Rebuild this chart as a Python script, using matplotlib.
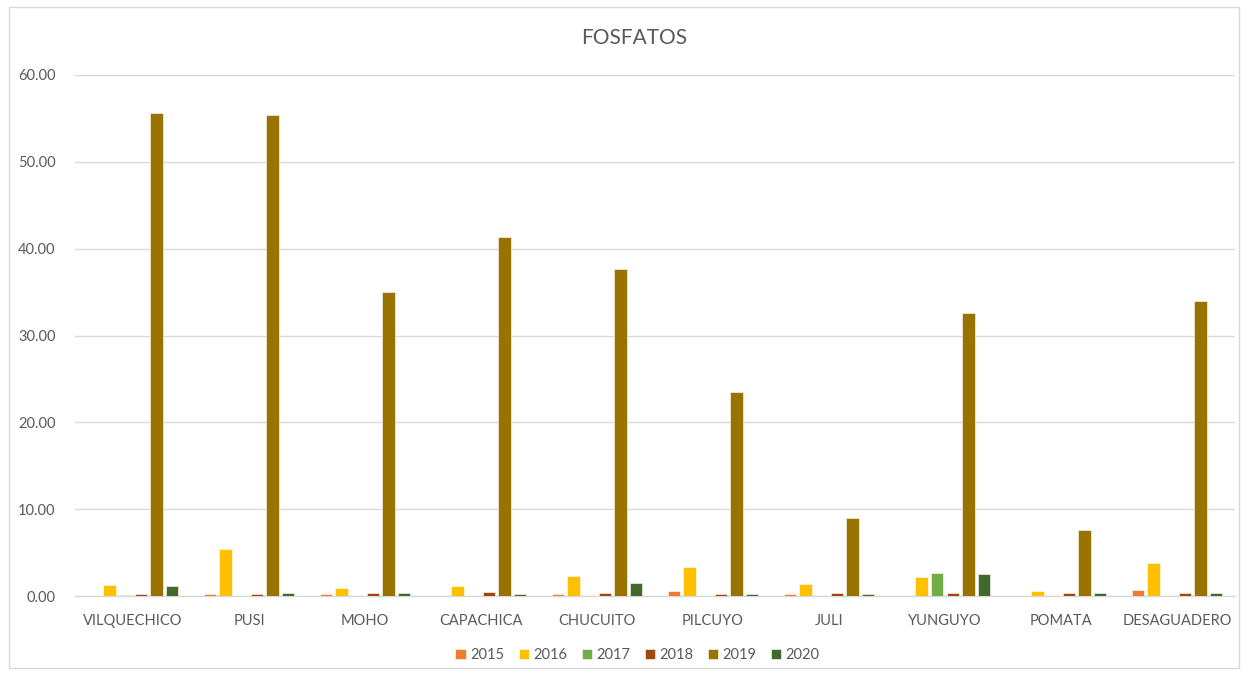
import matplotlib
matplotlib.use('Agg')
import matplotlib.pyplot as plt
import numpy as np
from matplotlib.patches import Rectangle

estaciones = ['VILQUECHICO', 'PUSI', 'MOHO', 'CAPACHICA', 'CHUCUITO',
              'PILCUYO', 'JULI', 'YUNGUYO', 'POMATA', 'DESAGUADERO']
anios = ['2015', '2016', '2017', '2018', '2019', '2020']

v2015 = [0.00, 0.20, 0.20, 0.00, 0.20, 0.58, 0.20, 0.00, 0.00, 0.70]
v2016 = [1.31, 5.42, 0.97, 1.20, 2.30, 3.35, 1.43, 2.20, 0.55, 3.80]
v2017 = [0.15, 0.00, 0.00, 0.00, 0.00, 0.00, 0.00, 2.70, 0.00, 0.00]
v2018 = [0.20, 0.20, 0.40, 0.50, 0.40, 0.20, 0.40, 0.30, 0.30, 0.30]
v2019 = [55.6, 55.4, 35.0, 41.3, 37.7, 23.5, 9.0, 32.6, 7.6, 34.0]
v2020 = [1.20, 0.35, 0.30, 0.20, 1.46, 0.20, 0.20, 2.50, 0.40, 0.30]

colores = ['#ED7D31', '#FFC000', '#70AD47', '#9E480E', '#997300', '#43682B']
series = [v2015, v2016, v2017, v2018, v2019, v2020]

plt.rcParams['font.family'] = ['Lato', 'DejaVu Sans']
gris = '#595959'

fig = plt.figure(figsize=(12.41, 6.75), dpi=100)
ax = fig.add_axes([75 / 1241, 1 - 596 / 675, 1160 / 1241, 521 / 675])

x = np.arange(len(estaciones))
paso = 0.134
ancho = 0.108
for i, (vals, col, lab) in enumerate(zip(series, colores, anios)):
    ax.bar(x + (i - 2.5) * paso, vals, ancho, color=col, label=lab,
           edgecolor='white', linewidth=0.4, zorder=3)

ax.set_xlim(-0.5, len(estaciones) - 0.5)
ax.set_ylim(0, 60)
ax.set_yticks(np.arange(0, 61, 10))
ax.set_yticklabels(['%.2f' % t for t in np.arange(0, 61, 10)])
ax.set_xticks(x)
ax.set_xticklabels(estaciones)
ax.grid(axis='y', color='#D9D9D9', linewidth=1, zorder=0)
for s in ['top', 'right', 'left']:
    ax.spines[s].set_visible(False)
ax.spines['bottom'].set_color('#D9D9D9')
ax.spines['bottom'].set_linewidth(1)
ax.tick_params(axis='both', length=0, labelsize=10.5, colors=gris)
ax.tick_params(axis='y', pad=14)
ax.tick_params(axis='x', pad=13)

fig.text(634 / 1241, 1 - 38 / 675, 'FOSFATOS', ha='center', va='center',
         fontsize=15, color=gris)

ax.legend(loc='center', bbox_to_anchor=(0.485, -0.113), ncol=6, frameon=False,
          fontsize=10.5, labelcolor=gris, handlelength=0.7, handleheight=0.7,
          handletextpad=0.3, columnspacing=1.0)

fig.patches.append(Rectangle((9 / 1241, 1 - 668 / 675), 1230 / 1241, 661 / 675,
                             transform=fig.transFigure, fill=False,
                             edgecolor='#D9D9D9', linewidth=1))

fig.savefig('out.png', dpi=100)
